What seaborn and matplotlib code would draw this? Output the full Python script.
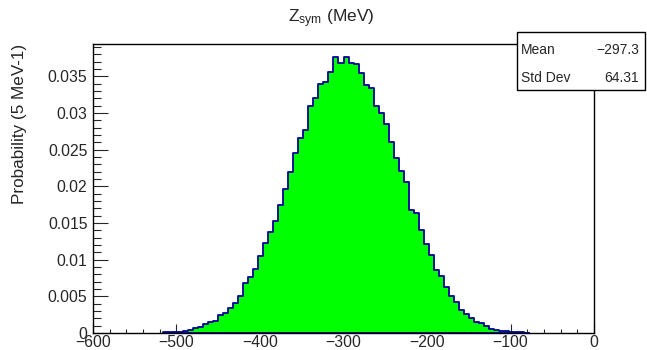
import numpy as np
import pandas as pd
import matplotlib
matplotlib.use("Agg")
import matplotlib.pyplot as plt
from matplotlib.ticker import MultipleLocator, FuncFormatter
import seaborn as sns

# 6 MeV bins, left edges from -516 to -84 MeV
bin_width = 6
bin_left = np.arange(-516, -83, bin_width)
probability = [
    0.0001, 0.0001, 0.0001, 0.0002, 0.0003, 0.0004, 0.0007, 0.0008, 0.0012, 0.0015,
    0.0017, 0.0025, 0.0027, 0.0034, 0.0041, 0.0051, 0.0068, 0.0077, 0.0087, 0.0105,
    0.0123, 0.0138, 0.0153, 0.0175, 0.0196, 0.0219, 0.0245, 0.0266, 0.0277, 0.0310,
    0.0321, 0.0340, 0.0343, 0.0356, 0.0376, 0.0368, 0.0376, 0.0368, 0.0367, 0.0355,
    0.0338, 0.0334, 0.0310, 0.0300, 0.0285, 0.0261, 0.0239, 0.0221, 0.0206, 0.0168,
    0.0164, 0.0140, 0.0122, 0.0106, 0.0086, 0.0078, 0.0063, 0.0051, 0.0042, 0.0032,
    0.0026, 0.0020, 0.0015, 0.0013, 0.0010, 0.0006, 0.0004, 0.0003, 0.0003, 0.0001,
    0.0001, 0.0001, 0.00005,
]
stat_names = ["Mean", "Std Dev"]
stat_values = ["\u2212297.3", "64.31"]

title_text = r"Z$_{\mathrm{sym}}$ (MeV)"
ylabel_text = "Probability (5 MeV-1)"

df = pd.DataFrame({"z": bin_left + bin_width / 2, "p": probability})

sns.set_style("ticks")
plt.rcParams["font.family"] = ["Liberation Sans", "DejaVu Sans"]
plt.rcParams["mathtext.fontset"] = "custom"
plt.rcParams["mathtext.rm"] = "Liberation Sans"
plt.rcParams["mathtext.it"] = "Liberation Sans:italic"

W, H = 647, 350
fig = plt.figure(figsize=(W / 100, H / 100), dpi=100)
ax = fig.add_axes([93 / W, 1 - 333 / H, (594 - 93) / W, (333 - 43.5) / H])

sns.histplot(data=df, x="z", weights="p", binwidth=bin_width,
             binrange=(bin_left[0], bin_left[-1] + bin_width),
             element="step", fill=True, stat="count",
             facecolor="#00ff00", edgecolor="#000099", alpha=1,
             linewidth=1.3, ax=ax)

ax.set_xlim(-600, 0)
ax.set_ylim(0, 0.0395)
ax.set_xlabel("")
ax.set_ylabel(ylabel_text, fontsize=12.3, loc="top")
ax.yaxis.set_label_coords(-0.131, 1.0)

ax.xaxis.set_major_locator(MultipleLocator(100))
ax.xaxis.set_minor_locator(MultipleLocator(20))
ax.yaxis.set_major_locator(MultipleLocator(0.005))
ax.yaxis.set_minor_locator(MultipleLocator(0.001))
ax.yaxis.set_major_formatter(FuncFormatter(lambda v, _: "0" if abs(v) < 1e-9 else f"{v:g}"))
ax.xaxis.set_major_formatter(FuncFormatter(lambda v, _: f"{v:g}".replace("-", "\u2212")))

ax.tick_params(axis="x", which="major", direction="in", length=6.3, width=0.8,
               labelsize=11.3, pad=1.5, top=False)
ax.tick_params(axis="x", which="minor", direction="in", length=3.1, width=0.8, top=False)
ax.tick_params(axis="y", which="major", direction="in", length=10.8, width=0.8,
               labelsize=11.3, pad=4, right=False)
ax.tick_params(axis="y", which="minor", direction="in", length=5.4, width=0.8, right=False)
for s in ax.spines.values():
    s.set_linewidth(1.0)
    s.set_color("black")

fig.text(331 / W, 1 - 19 / H, title_text, ha="center", va="center", fontsize=12.5)

# statistics box
bx0, by0, bx1, by1 = 517, 32, 645, 90
box = plt.Rectangle((bx0 / W, 1 - by1 / H), (bx1 - bx0) / W, (by1 - by0) / H,
                    transform=fig.transFigure, facecolor="white", edgecolor="black",
                    linewidth=1.0, zorder=5)
fig.patches.append(box)
rows_y = [50, 78]
for name, val, yy in zip(stat_names, stat_values, rows_y):
    fig.text(521 / W, 1 - yy / H, name, ha="left", va="center", fontsize=10, zorder=6)
    fig.text(639 / W, 1 - yy / H, val, ha="right", va="center", fontsize=10, zorder=6)

fig.savefig("out.png", dpi=100)
